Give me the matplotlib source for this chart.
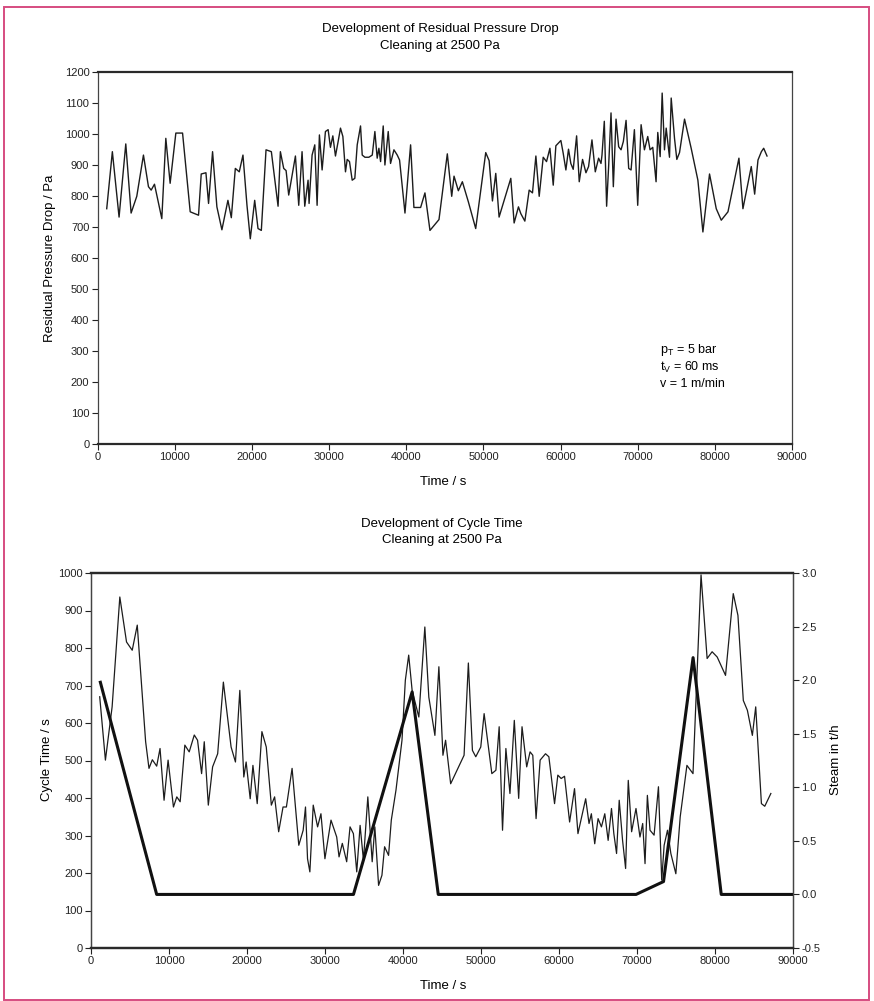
import matplotlib
matplotlib.use("Agg")
import matplotlib.pyplot as plt
from matplotlib.patches import Rectangle
from matplotlib.ticker import FormatStrFormatter

plt.rcParams['font.family'] = ['Liberation Sans', 'DejaVu Sans']
plt.rcParams['mathtext.fontset'] = 'custom'
plt.rcParams['mathtext.rm'] = 'Liberation Sans'
plt.rcParams['mathtext.it'] = 'Liberation Sans:italic'

# ---------------- data: residual pressure drop ----------------
dp_time = [1170, 1900, 2770, 3640, 4330, 5065, 5930, 6580, 6930, 7360, 8310, 8830, 9390,
           10130, 11000, 11990, 13070, 13420, 14030, 14370, 14890, 15450, 16100, 16880,
           17320, 17840, 18350, 18830, 19350, 19780, 20350, 20780, 21210, 21820, 22510,
           23380, 23680, 24110, 24420, 24760, 25630, 26060, 26490, 26840, 27270, 27400,
           27790, 28140, 28440, 28740, 29090,
           29520, 29870, 30170, 30480, 30820, 31170, 31470, 31780, 32120, 32340, 32640,
           32990, 33330, 33640, 34070, 34290, 34640, 35150, 35590, 35930, 36230, 36450,
           36670, 37010, 37230, 37660, 37960, 38400, 38830, 39130, 39830, 40560, 40990,
           41860, 42420, 43070, 44240, 45320, 45890, 46190, 46750, 47270, 48050, 49000,
           50300, 50740, 51170, 51600, 52030, 53550, 53980, 54540, 54850, 55370, 55930,
           56360, 56800, 57230, 57750, 58180, 58620, 59050,
           59390, 60040, 60340, 60690, 61030, 61330, 61640, 62080, 62420, 62850, 63290,
           63630, 64070, 64500, 64930, 65240, 65370, 65670, 65970, 66230, 66540, 66840,
           67190, 67530, 67840, 68140, 68490, 68830, 69140, 69570, 70000, 70440, 70870,
           71300, 71600, 71950, 72380, 72600, 72910, 73170, 73470, 73690, 74120, 74340,
           74770, 75070, 75420, 76070, 76930, 77800, 78450, 79310, 80180, 80830, 81700,
           83120, 83640, 84720, 85160, 85590, 86030, 86330, 86760]
dp_value = [759, 943, 732, 968, 745, 799, 932, 830, 819, 838, 727, 986, 841,
            1003, 1003, 749, 738, 871, 875, 776, 943, 765, 691, 786,
            730, 889, 878, 932, 770, 662, 786, 695, 689, 949, 943,
            767, 943, 889, 882, 803, 929, 770, 943, 767, 851, 776,
            932, 965, 770, 997, 884,
            1008, 1014, 957, 994, 929, 976, 1019, 992, 878, 918, 911,
            851, 857, 965, 1026, 932, 925, 925, 932, 1008, 922, 954,
            911, 1026, 900, 1008, 905, 949, 932, 916, 745, 965, 763,
            763, 810, 689, 724, 936, 799, 864, 817, 846, 781, 695,
            940, 914, 784, 873, 732, 857, 713, 765, 743, 719, 819,
            810, 929, 799, 925, 911, 954, 835,
            962, 979, 938, 884, 951, 905, 886, 994, 846, 918, 875,
            895, 981, 878, 922, 905, 932, 1041, 767, 895, 1068, 830,
            1048, 959, 949, 976, 1044, 889, 884, 1014, 770, 1030, 949,
            992, 949, 957, 846, 1005, 927, 1132, 949, 1019, 925, 1116,
            986, 918, 940, 1048, 954, 851, 684, 871, 759, 722, 749,
            922, 759, 895, 806, 916, 943, 954, 929]

# ---------------- data: cycle time ----------------
ct_time = [1117, 1848, 2707, 3695, 4555, 5285, 5930, 7004, 7434, 7863, 8422, 8851, 9367,
           9883, 10570, 11000, 11430, 12030, 12590, 13240, 13660, 14180, 14520, 15040,
           15590, 16240, 16970, 17960, 18520, 19080, 19590, 19890, 20410, 20760, 21310,
           21910, 22470, 23120, 23540, 24060, 24620, 25050, 25780, 26640, 27200, 27500,
           27760, 28060, 28490, 29050, 29480, 29990,
           30770, 31500, 31800, 32220, 32780, 33210, 33640, 34070, 34500, 34930, 35490,
           36050, 36390, 36870, 37300, 37640, 38150, 38500, 39100, 39870, 40300, 40730,
           41170, 42030, 42800, 43310, 44090, 44600, 45120, 45460, 46110, 47830, 48380,
           48900, 49330, 49970, 50400, 51390, 51910, 52330, 52760, 53190, 53710, 54270,
           54830, 55260, 55860, 56290, 56640, 57060, 57580, 58270, 58700, 59430,
           59850, 60280, 60710, 61360, 61990, 62430, 62860, 63420, 63850, 64150, 64580,
           65010, 65440, 65870, 66300, 66730, 67030, 67380, 67720, 68150, 68540, 68880,
           69310, 69870, 70380, 70730, 71030, 71330, 71670, 72190, 72750, 73170, 73480,
           73910, 74340, 74980, 75540, 76400, 77180, 78210, 78990, 79630, 80280, 81350,
           82340, 82940, 83630, 84150, 84790, 85220, 85950, 86380, 87160]
ct_value = [670, 501, 643, 936, 816, 794, 861, 550, 479, 502, 485, 532, 394,
            501, 376, 403, 390, 541, 523, 568, 554, 465, 550, 381,
            483, 518, 709, 536, 496, 687, 456, 496, 398, 487, 385,
            577, 536, 381, 403, 310, 376, 376, 479, 274, 314, 376,
            238, 203, 381, 323, 358, 238,
            341, 296, 243, 279, 230, 323, 305, 203, 327, 234, 403,
            230, 323, 167, 194, 270, 247, 341, 421, 554, 714, 781,
            687, 616, 856, 669, 567, 750, 514, 554, 438, 514, 760,
            527, 510, 536, 625, 465, 474, 590, 314, 532, 412, 607,
            399, 590, 483, 523, 514, 345, 501, 518, 510, 385,
            461, 452, 458, 336, 425, 305, 345, 398, 332, 358, 278,
            345, 323, 358, 287, 372, 305, 252, 394, 287, 212, 447,
            310, 372, 296, 332, 225, 407, 314, 301, 430, 181, 274,
            314, 252, 198, 350, 487, 465, 995, 772, 790, 776, 727,
            945, 887, 660, 634, 567, 643, 385, 378, 412]

# ---------------- data: steam ----------------
steam_time = [1200, 8420, 33650, 41170, 44520, 69880, 73400, 77190, 80800, 90000]
steam_value = [1.98, 0.0, 0.0, 1.89, 0.0, 0.0, 0.12, 2.21, 0.0, 0.0]

x_ticks = list(range(0, 90001, 10000))
dp_ticks = list(range(0, 1201, 100))
ct_ticks = list(range(0, 1001, 100))
steam_ticks = [-0.5, 0.0, 0.5, 1.0, 1.5, 2.0, 2.5, 3.0]

W, H = 874, 1001
fig = plt.figure(figsize=(W / 100, H / 100), dpi=100)
fig.patch.set_facecolor('white')

def fx(px):
    return px / W

def fy(py):
    return 1 - py / H

line_col = '#1c1c1c'
spine_col = '#2a2a2a'
tick_fs = 8

def style_axes(ax):
    for s in ['top', 'bottom']:
        ax.spines[s].set_linewidth(1.6)
        ax.spines[s].set_color(spine_col)
    for s in ['left', 'right']:
        ax.spines[s].set_linewidth(0.9)
        ax.spines[s].set_color('#444444')
    ax.tick_params(direction='out', length=4, width=0.8, labelsize=tick_fs,
                   colors='#222222', pad=2)

# ---------- top chart ----------
ax1 = fig.add_axes([fx(97.7), fy(444), fx(792) - fx(97.7), (444 - 72) / H])
ax1.plot(dp_time, dp_value, color=line_col, lw=1.0)
ax1.set_xlim(0, 90000)
ax1.set_ylim(0, 1200)
ax1.set_xticks(x_ticks)
ax1.set_yticks(dp_ticks)
ax1.set_xticklabels([str(v) for v in x_ticks])
style_axes(ax1)

fig.text(fx(440), fy(29), 'Development of Residual Pressure Drop', ha='center', va='center', fontsize=9.5)
fig.text(fx(440), fy(46), 'Cleaning at 2500 Pa', ha='center', va='center', fontsize=9.5)
fig.text(fx(50), fy(258), 'Residual Pressure Drop / Pa', rotation=90, ha='center', va='center', fontsize=9.5)
fig.text(fx(443), fy(482), 'Time / s', ha='center', va='center', fontsize=9.5)
fig.text(fx(660), fy(350), r'p$_\mathrm{T}$ = 5 bar', ha='left', va='center', fontsize=9)
fig.text(fx(660), fy(367), r't$_\mathrm{V}$ = 60 ms', ha='left', va='center', fontsize=9)
fig.text(fx(660), fy(384), 'v = 1 m/min', ha='left', va='center', fontsize=9)

# ---------- bottom chart ----------
ax2 = fig.add_axes([fx(91), fy(948), fx(793) - fx(91), (948 - 573) / H])
ax2.plot(ct_time, ct_value, color=line_col, lw=0.9)
ax2.set_xlim(0, 90000)
ax2.set_ylim(0, 1000)
ax2.set_xticks(x_ticks)
ax2.set_yticks(ct_ticks)
ax2.set_xticklabels([str(v) for v in x_ticks])
style_axes(ax2)

ax2r = ax2.twinx()
ax2r.plot(steam_time, steam_value, color='#111111', lw=2.2)
ax2r.set_ylim(-0.5, 3.0)
ax2r.set_yticks(steam_ticks)
ax2r.yaxis.set_major_formatter(FormatStrFormatter('%.1f'))
style_axes(ax2r)

fig.text(fx(442), fy(524), 'Development of Cycle Time', ha='center', va='center', fontsize=9.5)
fig.text(fx(442), fy(540), 'Cleaning at 2500 Pa', ha='center', va='center', fontsize=9.5)
fig.text(fx(47), fy(760), 'Cycle Time / s', rotation=90, ha='center', va='center', fontsize=9.5)
fig.text(fx(836), fy(760), 'Steam in t/h', rotation=90, ha='center', va='center', fontsize=9.5)
fig.text(fx(443), fy(986), 'Time / s', ha='center', va='center', fontsize=9.5)

# pink page border
fig.patches.append(Rectangle((fx(4), fy(1000)), fx(869) - fx(4), (1000 - 7) / H,
                             transform=fig.transFigure, fill=False,
                             edgecolor='#d64c80', lw=1.4))

fig.savefig('out.png', dpi=100, facecolor='white')
